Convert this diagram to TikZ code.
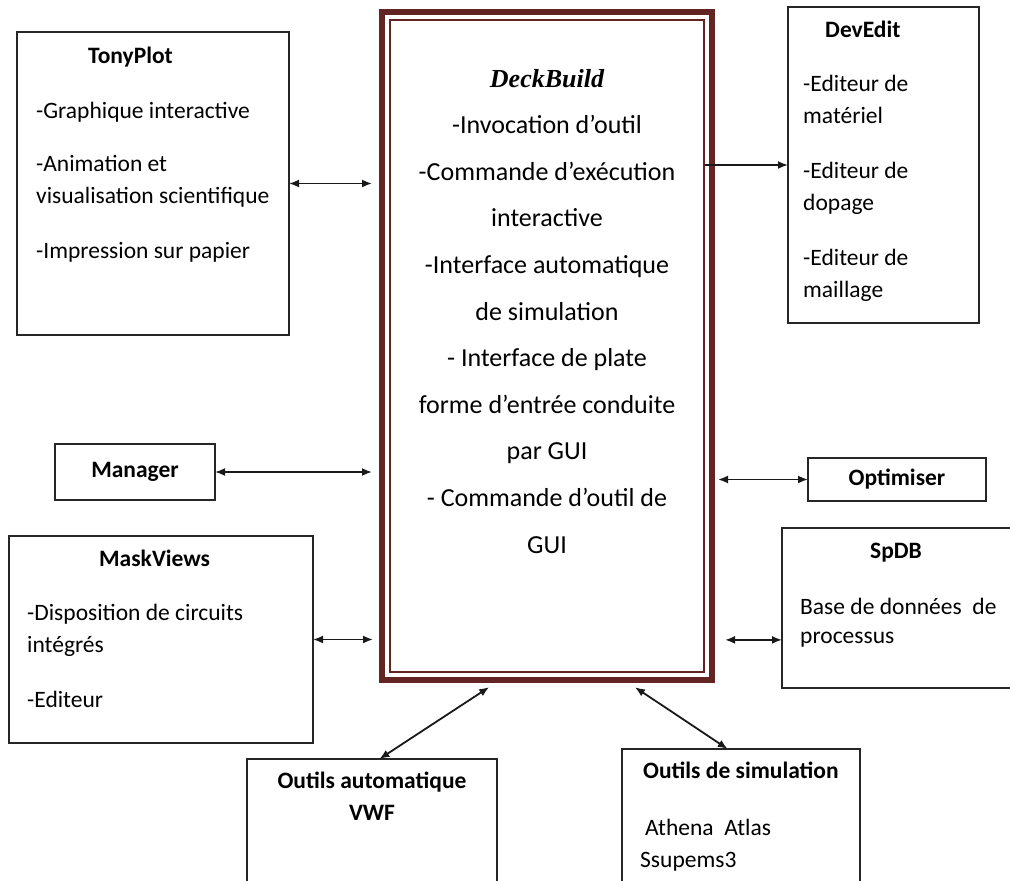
\documentclass[tikz,border=0pt]{standalone}
\usepackage{fontspec}
\setmainfont{Carlito}
\newfontfamily\deckfont{Liberation Serif}
\usetikzlibrary{positioning,arrows,arrows.meta}
\definecolor{deckred}{RGB}{99,37,35}
\tikzstyle{deckbox}=[rectangle, draw=deckred, line width=6pt, outer sep=0pt, minimum width=330pt, minimum height=668pt]
\tikzstyle{toolbox}=[rectangle, draw=black!85, line width=2pt, outer sep=0pt, inner sep=0pt, font=\fontsize{23.5}{32}\selectfont\bfseries]
\tikzstyle{ttl}=[inner sep=0pt, anchor=base west, font=\fontsize{23.5}{32}\selectfont\bfseries]
\tikzstyle{btxt}=[inner sep=0pt, anchor=base west, align=left, font=\fontsize{23.5}{32}\selectfont]
\tikzstyle{conn}=[{Latex[length=10pt,width=8pt]}-{Latex[length=10pt,width=8pt]}, line width=1.8pt, black!90]

\begin{document}
\begin{tikzpicture}[x=1pt, y=1pt]
\clip (0,0) rectangle (1010,-881);
\node (DECK) [deckbox] at (547,-346) {};
\draw[deckred, line width=1.5pt] ([xshift=8pt,yshift=-8pt]DECK.north west) rectangle ([xshift=-8pt,yshift=8pt]DECK.south east);
% base of a multi-line node = baseline of its last line
\node (DECKTXT) [below=541pt of DECK.north, inner sep=0pt, anchor=base, align=center,
  font=\fontsize{26}{46.6}\selectfont] {{\deckfont\bfseries\itshape DeckBuild}\\
  -Invocation d’outil\\ -Commande d’exécution\\ interactive\\ -Interface automatique\\
  de simulation\\ - Interface de plate\\ forme d’entrée conduite\\ par GUI\\
  - Commande d’outil de\\ GUI};

% left column
\node (TONY) [toolbox, minimum width=272pt, minimum height=303pt,
  below left=20pt and 93pt of DECK.north west] {};
\node [below right=31pt and 71pt of TONY.north west, ttl] {TonyPlot};
\node [below right=226pt and 19pt of TONY.north west, btxt] {-Graphique interactive\\[21pt]
  -Animation et\\ visualisation scientifique\\[23pt] -Impression sur papier};
\node (MAN) [toolbox, minimum width=160pt, minimum height=56pt,
  below left=432pt and 167pt of DECK.north west] {Manager};
\node (MASK) [toolbox, minimum width=304pt, minimum height=207pt,
  below left=524pt and 69pt of DECK.north west] {};
\node [below right=30pt and 90pt of MASK.north west, ttl] {MaskViews};
\node [below right=171pt and 18pt of MASK.north west, btxt] {-Disposition de circuits\\
  intégrés\\[23pt] -Editeur};

% right column
\node (DEV) [toolbox, minimum width=191pt, minimum height=316pt,
  below right=-5pt and 76pt of DECK.north east] {};
\node [below right=30pt and 37pt of DEV.north west, ttl] {DevEdit};
\node [below right=290pt and 15pt of DEV.north west, btxt] {-Editeur de\\ matériel\\[23pt]
  -Editeur de\\ dopage\\[23pt] -Editeur de\\ maillage};
\node (OPT) [toolbox, minimum width=178pt, minimum height=43pt,
  below right=446pt and 96pt of DECK.north east] {Optimiser};
\node (SPDB) [toolbox, minimum width=238pt, minimum height=160pt,
  below right=516pt and 70pt of DECK.north east] {};
\node [below right=30pt and 88pt of SPDB.north west, ttl] {SpDB};
\node [below right=115pt and 18pt of SPDB.north west, btxt] {Base de données\ \ de\\[-3pt] processus};

% bottom row
\node (VWF) [toolbox, minimum width=250pt, minimum height=141pt,
  below=79pt of DECK.south west, xshift=-10pt] {};
\node [below=61pt of VWF.north, ttl, anchor=base, align=center] {Outils automatique\\ VWF};
\node (SIM) [toolbox, minimum width=238pt, minimum height=151pt,
  below=69pt of DECK.south east, xshift=29pt] {};
\node [below right=29pt and 21pt of SIM.north west, ttl] {Outils de simulation};
\node [below right=118pt and 18pt of SIM.north west, btxt] {\hspace*{5pt}Athena\ \ Atlas\\ Ssupems3};

\draw[conn, shorten >=10pt] (TONY.east) -- (TONY.east -| DECK.west);
\draw[conn, shorten >=10pt] (MAN.east) -- (MAN.east -| DECK.west);
\draw[conn, shorten >=9pt] (MASK.east) -- (MASK.east -| DECK.west);
\draw[-{Latex[length=10pt,width=8pt]}, line width=1.8pt, black!90, shorten <=-7pt] (DEV.west -| DECK.east) -- (DEV.west);
\draw[conn, shorten >=6pt] (OPT.west) -- (OPT.west -| DECK.east);
\draw[conn, shorten >=13pt] (SPDB.195) -- (SPDB.195 -| DECK.east);
\draw[conn, shorten >=13pt] (VWF.84) -- (DECK.262);
\draw[conn, shorten >=13pt] (SIM.100) -- (DECK.283);
\end{tikzpicture}
\end{document}
